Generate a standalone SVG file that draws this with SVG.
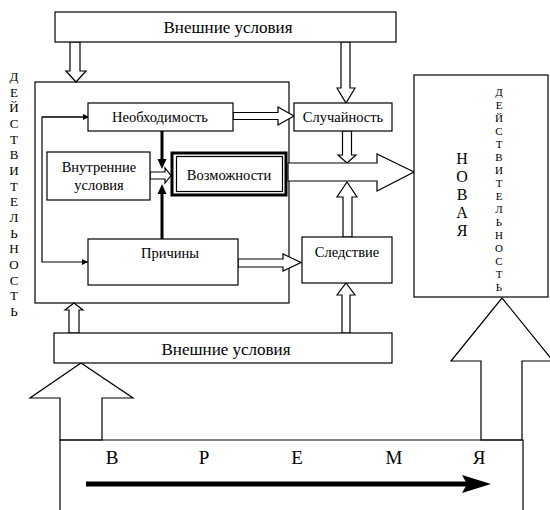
<svg xmlns="http://www.w3.org/2000/svg" width="550" height="510" viewBox="0 0 550 510">
<style>
.b{fill:#fff;stroke:#000;stroke-width:1.2}
.n{fill:none;stroke:#000;stroke-width:1.2}
.h{fill:#fff;stroke:#000;stroke-width:1.2;stroke-linejoin:miter}
text{fill:#000;text-anchor:middle;font-family:"Times New Roman","Liberation Serif",Tinos,"DejaVu Serif",serif}
.t{font-size:14.5px}
.e{font-size:17px}
.v{font-size:13px}
.s{font-size:11px}
.nv{font-size:16px}
.w{font-size:19px}
</style>
<defs>
<marker id="ah" viewBox="0 0 10 10" refX="10" refY="5" markerWidth="8" markerHeight="6" markerUnits="userSpaceOnUse" orient="auto"><path d="M0,0 L10,5 L0,10 z" fill="#000"/></marker>
</defs>
<rect width="550" height="510" fill="#fff"/>
<g id="left-label">
<text class="v" x="14" y="81">Д</text>
<text class="v" x="14" y="96.7">Е</text>
<text class="v" x="14" y="112.3">Й</text>
<text class="v" x="14" y="128">С</text>
<text class="v" x="14" y="143.7">Т</text>
<text class="v" x="14" y="159.3">В</text>
<text class="v" x="14" y="175">И</text>
<text class="v" x="14" y="190.7">Т</text>
<text class="v" x="14" y="206.3">Е</text>
<text class="v" x="14" y="222">Л</text>
<text class="v" x="14" y="237.7">Ь</text>
<text class="v" x="14" y="253.3">Н</text>
<text class="v" x="14" y="269">О</text>
<text class="v" x="14" y="284.7">С</text>
<text class="v" x="14" y="300.3">Т</text>
<text class="v" x="14" y="316">Ь</text>
</g>
<g id="main-box"><rect class="b" x="35" y="82" width="254" height="221"/></g>
<g id="connectors">
<polygon class="h" points="70,42 80,42 80,71 86,71 76,82 66,71 70,71"/>
<polygon class="h" points="341,42 350,42 350,88 355,88 346,103 337,88 341,88"/>
<polygon class="h" points="233,112.5 278,112.5 278,107 294,116 278,125 278,119.5 233,119.5"/>
<polygon class="h" points="342.5,131 351.5,131 351.5,155 356,155 347,163 338,155 342.5,155"/>
<polygon class="h" points="288,163 377,163 377,154 414,172 377,191 377,181 288,181"/>
<polygon class="h" points="343,237 343,197 337,197 347,182 357,197 352,197 352,237"/>
<polygon class="h" points="342,333 342,295 337,295 346,283 355,295 350,295 350,333"/>
<polygon class="h" points="69,333 69,310 65,310 74,303 83,310 79,310 79,333"/>
<polygon class="h" points="238,259 283,259 283,254 301,262.5 283,271 283,267 238,267"/>
<polygon class="h" points="150,172 165,172 165,168 171,175.5 165,183 165,179 150,179"/>
<line x1="162" y1="131" x2="162" y2="160" stroke="#000" stroke-width="3"/>
<polygon points="157.5,159 166.5,159 162,169" fill="#000"/>
<line x1="162" y1="239" x2="162" y2="192" stroke="#000" stroke-width="3"/>
<polygon points="157.5,194 166.5,194 162,184" fill="#000"/>
<path class="n" d="M89,117 H42 V262 H88" marker-end="url(#ah)"/>
<line class="n" x1="42" y1="117" x2="89" y2="117" marker-end="url(#ah)"/>
<polygon class="h" points="60,440 60,398 30,398 81,363 133,398 102,398 102,440"/>
<polygon class="h" points="481,440 481,361 451,361 502,298 553,361 522,361 522,440"/>
</g>
<g id="top-ext"><rect class="b" x="55" y="12" width="341" height="30"/><text class="e" x="228" y="33">Внешние условия</text></g>
<g id="necessity"><rect class="b" x="88" y="103" width="145" height="28"/><text class="t" x="160" y="122">Необходимость</text></g>
<g id="chance"><rect class="b" x="294" y="103" width="98" height="28"/><text class="t" x="343" y="122">Случайность</text></g>
<g id="inner"><rect class="b" x="47" y="152" width="103" height="48"/><text class="t" x="99" y="172">Внутренние</text><text class="t" x="99" y="190">условия</text></g>
<g id="possib"><rect x="172" y="153" width="114" height="42" fill="#fff" stroke="#000" stroke-width="3"/><rect class="n" x="176.5" y="156.5" width="106" height="35"/><text class="t" x="229" y="180">Возможности</text></g>
<g id="causes"><rect class="b" x="88" y="239" width="150" height="46"/><text class="t" x="170" y="258">Причины</text></g>
<g id="effect"><rect class="b" x="302" y="237" width="90" height="46"/><text class="t" x="347" y="257">Следствие</text></g>
<g id="bottom-ext"><rect class="b" x="54" y="333" width="338" height="30"/><text class="e" x="226" y="355">Внешние условия</text></g>
<g id="new-reality"><rect class="b" x="414" y="75" width="134" height="222"/>
<text class="nv" x="462" y="164">Н</text>
<text class="nv" x="462" y="182">О</text>
<text class="nv" x="462" y="200">В</text>
<text class="nv" x="462" y="218">А</text>
<text class="nv" x="462" y="236">Я</text>
<text class="s" x="499" y="96">Д</text>
<text class="s" x="499" y="109">Е</text>
<text class="s" x="499" y="122">Й</text>
<text class="s" x="499" y="135">С</text>
<text class="s" x="499" y="148">Т</text>
<text class="s" x="499" y="161">В</text>
<text class="s" x="499" y="174">И</text>
<text class="s" x="499" y="187">Т</text>
<text class="s" x="499" y="200">Е</text>
<text class="s" x="499" y="213">Л</text>
<text class="s" x="499" y="226">Ь</text>
<text class="s" x="499" y="239">Н</text>
<text class="s" x="499" y="252">О</text>
<text class="s" x="499" y="265">С</text>
<text class="s" x="499" y="278">Т</text>
<text class="s" x="499" y="291">Ь</text>
</g>
<g id="time">
<path class="n" d="M60,515 V440 H523 V515"/>
<text class="w" x="112" y="464">В</text>
<text class="w" x="204" y="464">Р</text>
<text class="w" x="297" y="464">Е</text>
<text class="w" x="394" y="464">М</text>
<text class="w" x="479" y="464">Я</text>
<line x1="86" y1="484" x2="470" y2="484" stroke="#000" stroke-width="5"/>
<polygon points="462,475 491,484 462,493 467,484" fill="#000"/>
</g>
</svg>
